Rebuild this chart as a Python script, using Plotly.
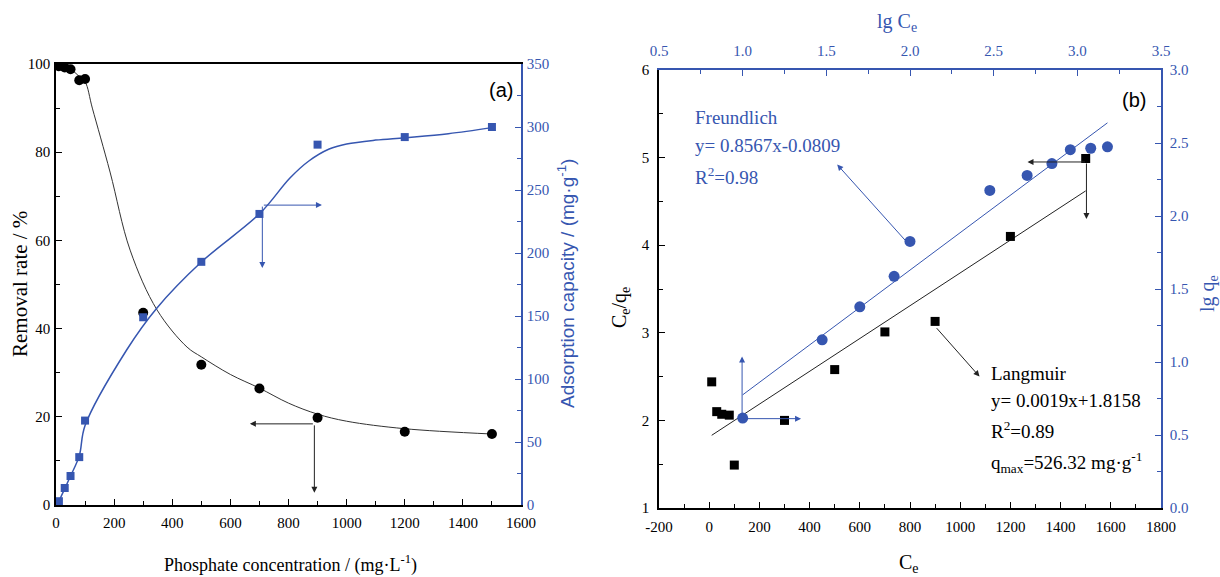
import plotly.graph_objects as go

# ---------------- Panel (a) data ----------------
conc_a = [10, 30, 50, 80, 100, 300, 500, 700, 900, 1200, 1500]
removal_rate = [99.5, 99.2, 98.8, 96.3, 96.6, 43.6, 31.8, 26.4, 19.8, 16.6, 16.1]
conc_q = [10, 30, 50, 80, 100, 300, 500, 700, 900, 1200, 1500]
ads_capacity = [3, 13.5, 23, 38, 67, 149, 193, 231, 286, 292, 300]

# fitted curves
fit_rate_x = [10, 30, 50, 80, 100, 125, 186, 255, 348, 451, 500, 600, 700, 800, 900, 1000, 1200, 1500]
fit_rate_y = [99.5, 99.2, 98.8, 97.2, 96.0, 90.0, 75.5, 57.8, 44.2, 35.8, 33.6, 29.6, 26.5, 23.1, 20.6, 19.0, 17.3, 16.1]
fit_cap_x = [10, 30, 50, 80, 100, 243, 346, 501, 702, 805, 870, 940, 1000, 1100, 1200, 1350, 1500]
fit_cap_y = [3, 13, 23, 39, 63, 123, 156, 193, 231.5, 259.5, 273, 282.5, 286.5, 289.6, 291.5, 294.7, 299.5]

# ---------------- Panel (b) data ----------------
ce_lang = [10, 30, 50, 80, 100, 300, 500, 700, 900, 1200, 1500]
ceqe_lang = [2.44, 2.10, 2.07, 2.06, 1.49, 2.00, 2.58, 3.01, 3.13, 4.10, 4.99]
lang_fit_x = [10, 1500]
lang_fit_y = [1.83, 4.62]

lgce_fr = [1.0, 1.475, 1.70, 1.905, 2.0, 2.477, 2.70, 2.848, 2.958, 3.08, 3.18]
lgqe_fr = [0.616, 1.152, 1.378, 1.587, 1.826, 2.175, 2.278, 2.359, 2.454, 2.464, 2.474]
fr_fit_x = [1.0, 3.18]
fr_fit_y = [0.775, 2.638]

# tick labels
ce_tickvals = [-200, 0, 200, 400, 600, 800, 1000, 1200, 1400, 1600, 1800]
ce_ticktext = ["-200", "0", "200", "400", "600", "800", "1000", "1200", "1400", "1600", "1800"]

BLUE = "#3656b0"
BLACK = "#000000"
SERIF = "Liberation Serif"
SANS = "Liberation Sans"

W, H = 1220, 577
def px(x):
    return x / W
def py(y):
    return 1 - y / H

fig = go.Figure()

# Panel (a)
fig.add_trace(go.Scatter(x=fit_rate_x, y=fit_rate_y, mode="lines", line=dict(color="#333333", width=1, shape="spline", smoothing=1.0),
                         xaxis="x", yaxis="y", showlegend=False, hoverinfo="skip"))
fig.add_trace(go.Scatter(x=fit_cap_x, y=fit_cap_y, mode="lines", line=dict(color=BLUE, width=1.5, shape="spline", smoothing=1.0),
                         xaxis="x", yaxis="y2", showlegend=False, hoverinfo="skip"))
fig.add_trace(go.Scatter(x=conc_a, y=removal_rate, mode="markers", marker=dict(symbol="circle", size=10, color=BLACK),
                         xaxis="x", yaxis="y", name="Removal rate", showlegend=False))
fig.add_trace(go.Scatter(x=conc_q, y=ads_capacity, mode="markers", marker=dict(symbol="square", size=8, color=BLUE),
                         xaxis="x", yaxis="y2", name="Adsorption capacity", showlegend=False))

# Panel (b)
fig.add_trace(go.Scatter(x=lang_fit_x, y=lang_fit_y, mode="lines", line=dict(color="#222222", width=1),
                         xaxis="x3", yaxis="y3", showlegend=False, hoverinfo="skip"))
fig.add_trace(go.Scatter(x=ce_lang, y=ceqe_lang, mode="markers", marker=dict(symbol="square", size=9, color=BLACK),
                         xaxis="x3", yaxis="y3", name="Langmuir", showlegend=False))
fig.add_trace(go.Scatter(x=fr_fit_x, y=fr_fit_y, mode="lines", line=dict(color=BLUE, width=1),
                         xaxis="x4", yaxis="y4", showlegend=False, hoverinfo="skip"))
fig.add_trace(go.Scatter(x=lgce_fr, y=lgqe_fr, mode="markers", marker=dict(symbol="circle", size=11, color=BLUE),
                         xaxis="x4", yaxis="y4", name="Freundlich", showlegend=False))

tickfont_k = dict(family=SERIF, size=15, color=BLACK)
tickfont_b = dict(family=SERIF, size=15, color=BLUE)

def axis_common(color, rng, dtick, minor_dtick, tickfont, tick0, standoff, fmt=None):
    d = dict(range=rng, dtick=dtick, tick0=tick0, ticks="inside", ticklen=6, tickwidth=1.2, tickcolor=color,
             showline=True, linecolor=color, linewidth=1.5, showgrid=False, zeroline=False, automargin=False,
             tickfont=tickfont, ticklabelstandoff=standoff,
             minor=dict(dtick=minor_dtick, tick0=tick0, ticks="inside", ticklen=4, tickwidth=1.2, tickcolor=color, showgrid=False))
    if fmt:
        d["tickformat"] = fmt
    return d

xa = axis_common(BLACK, [0, 1600], 200, 100, tickfont_k, 0, 3)
xa.update(domain=[px(56), px(521)], anchor="y", mirror=True)
ya = axis_common(BLACK, [0, 100], 20, 10, tickfont_k, 0, 1)
ya.update(domain=[py(505), py(64)], anchor="x")
ya2 = axis_common(BLUE, [0, 350], 50, 25, tickfont_b, 0, 1)
ya2.update(overlaying="y", side="right", anchor="x")

xb = axis_common(BLACK, [-200, 1800], 200, 100, tickfont_k, -200, 4)
xb.update(domain=[px(659), px(1161)], anchor="y3", tickmode="array", tickvals=ce_tickvals, ticktext=ce_ticktext)
xb2 = axis_common(BLUE, [0.5, 3.5], 0.5, 0.25, tickfont_b, 0.5, 6, ".1f")
xb2.update(overlaying="x3", side="top", anchor="y3")
yb = axis_common(BLACK, [1, 6], 1, 0.5, tickfont_k, 1, 5)
yb.update(domain=[py(508), py(70)], anchor="x3")
yb2 = axis_common(BLUE, [0, 3], 0.5, 0.25, tickfont_b, 0, 4, ".1f")
yb2.update(overlaying="y3", side="right", anchor="x3")

fig.update_layout(
    width=W, height=H, margin=dict(l=0, r=0, t=0, b=0, autoexpand=False),
    paper_bgcolor="white", plot_bgcolor="white",
    font=dict(family=SERIF, size=15, color=BLACK),
    xaxis=xa, yaxis=ya, yaxis2=ya2,
    xaxis3=xb, xaxis4=xb2, yaxis3=yb, yaxis4=yb2,
    showlegend=False,
)

ann = []
def ptext(text, x, y, size, color=BLACK, family=SERIF, angle=0):
    ann.append(dict(text=text, x=px(x), y=py(y), xref="paper", yref="paper", showarrow=False,
                    font=dict(family=family, size=size, color=color), textangle=angle,
                    xanchor="center", yanchor="middle"))

ptext("Removal rate / %", 20, 284, 21, angle=-90)
ptext("Adsorption capacity / (mg·g<sup>-1</sup>)", 566, 284, 19, color=BLUE, family=SANS, angle=-90)
ptext("Phosphate concentration / (mg·L<sup>-1</sup>)", 290, 564, 18)
ptext("C<sub>e</sub>/q<sub>e</sub>", 620, 308, 20, angle=-90)
ptext("lg q<sub>e</sub>", 1208, 294, 20, color=BLUE, angle=-90)
ptext("lg C<sub>e</sub>", 897, 22, 20, color=BLUE)
ptext("C<sub>e</sub>", 909, 563, 20)

# panel labels
ann.append(dict(text="(a)", x=1530, y=94, xref="x", yref="y", showarrow=False,
                font=dict(family=SANS, size=20, color=BLACK)))
ann.append(dict(text="(b)", x=1692, y=5.66, xref="x3", yref="y3", showarrow=False,
                font=dict(family=SANS, size=20, color=BLACK)))

def dtext(text, x, y, color, size=19):
    ann.append(dict(text=text, x=x, y=y, xref="x3", yref="y3", showarrow=False, xanchor="left", yanchor="middle",
                    font=dict(family=SERIF, size=size, color=color)))

dtext("Freundlich", -65, 5.455, BLUE)
dtext("y= 0.8567x-0.0809", -65, 5.14, BLUE)
dtext("R<sup>2</sup>=0.98", -65, 4.79, BLUE)
dtext("Langmuir", 1113, 2.54, BLACK)
dtext("y= 0.0019x+1.8158", 1113, 2.23, BLACK)
dtext("R<sup>2</sup>=0.89", 1113, 1.89, BLACK)
dtext("q<sub>max</sub>=526.32 mg·g<sup>-1</sup>", 1113, 1.52, BLACK)

def arrow(x0, y0, x1, y1, xr, yr, color):
    ann.append(dict(text="", x=x1, y=y1, ax=x0, ay=y0, xref=xr, yref=yr, axref=xr, ayref=yr,
                    showarrow=True, arrowhead=2, arrowsize=1.2, arrowwidth=1, arrowcolor=color))

arrow(710, 238, 915, 238, "x", "y2", BLUE)
arrow(710, 238, 710, 188, "x", "y2", BLUE)
arrow(889, 18.4, 667, 18.4, "x", "y", "#222222")
arrow(889, 18.4, 889, 2.8, "x", "y", "#222222")

arrow(789, 4.03, 510, 4.92, "x3", "y3", BLUE)
arrow(901, 3.07, 1077, 2.50, "x3", "y3", "#222222")
arrow(131, 2.02, 131, 2.73, "x3", "y3", BLUE)
arrow(131, 2.02, 366, 2.02, "x3", "y3", BLUE)
arrow(1503, 4.95, 1268, 4.95, "x3", "y3", "#222222")
arrow(1503, 4.95, 1503, 4.30, "x3", "y3", "#222222")

fig.update_layout(annotations=ann)
fig.write_html("out.html")
